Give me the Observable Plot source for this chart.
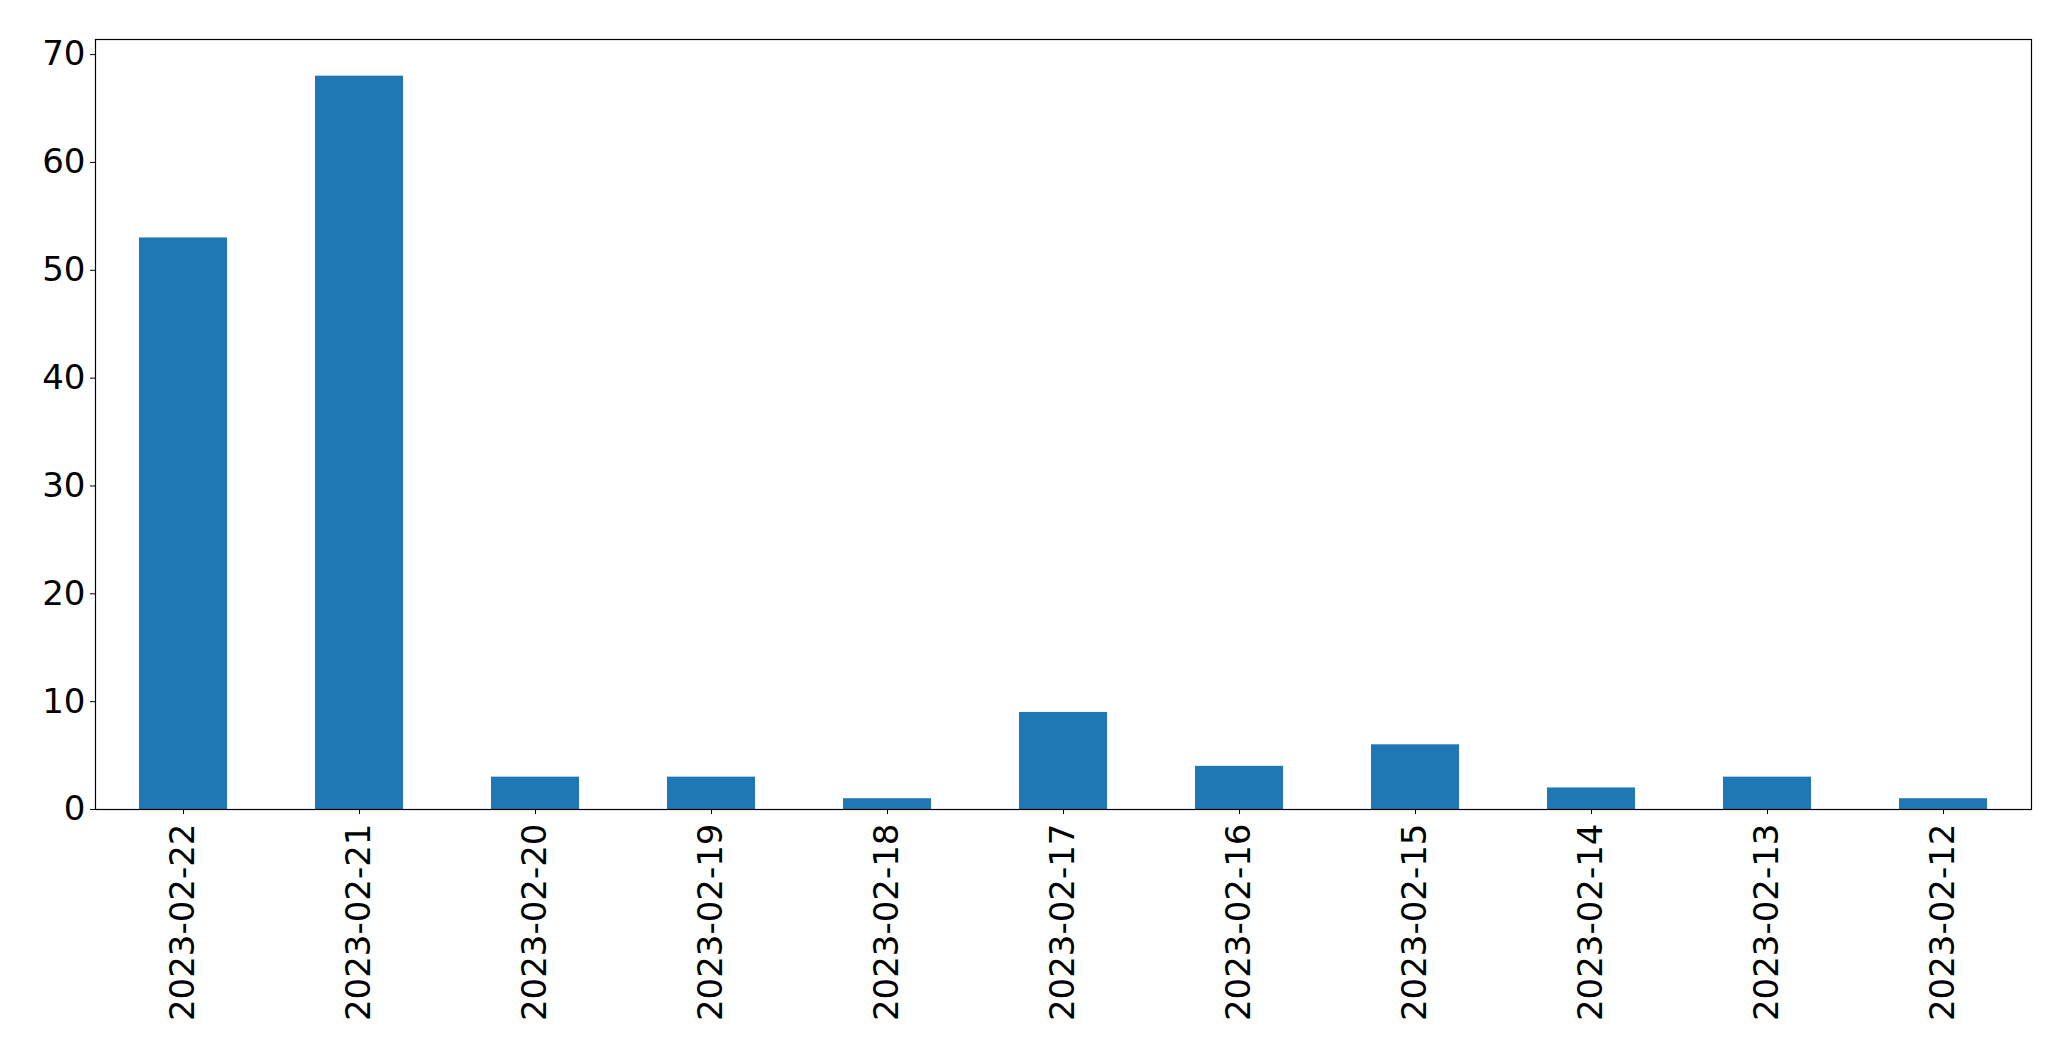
<!DOCTYPE html>
<html>
<head>
<meta charset="utf-8">
<script src="https://cdn.jsdelivr.net/npm/d3@7"></script>
<script src="https://cdn.jsdelivr.net/npm/@observablehq/plot@0.6"></script>
<style>
  html, body { margin: 0; padding: 0; background: #fff; }
</style>
</head>
<body>
<div id="chart"></div>
<script>
const dates = ["2023-02-22","2023-02-21","2023-02-20","2023-02-19","2023-02-18","2023-02-17","2023-02-16","2023-02-15","2023-02-14","2023-02-13","2023-02-12"];
const counts = [53, 68, 3, 3, 1, 9, 4, 6, 2, 3, 1];
const yTicks = [0, 10, 20, 30, 40, 50, 60, 70];

const data = dates.map((d, i) => ({date: d, count: counts[i]}));

const chart = Plot.plot({
  width: 2071,
  height: 1061,
  marginLeft: 95,
  marginRight: 40,
  marginTop: 39,
  marginBottom: 252,
  style: {fontFamily: "DejaVu Sans", fontSize: "34px", color: "#000", background: "#fff"},
  x: {domain: dates, paddingInner: 0.5, paddingOuter: 0.25, label: null},
  y: {domain: [0, 71.4], label: null},
  marks: [
    Plot.barY(data, {x: "date", y: "count", fill: "#1f77b4"}),
    Plot.axisY({ticks: yTicks, tickSize: 5, tickPadding: 5, fontSize: 34, label: null}),
    Plot.axisX({tickSize: 5, tickPadding: 9, tickRotate: -90, fontSize: 34, label: null}),
    Plot.frame({stroke: "#000", strokeWidth: 1.2})
  ]
});
document.getElementById("chart").appendChild(chart);
</script>
</body>
</html>
